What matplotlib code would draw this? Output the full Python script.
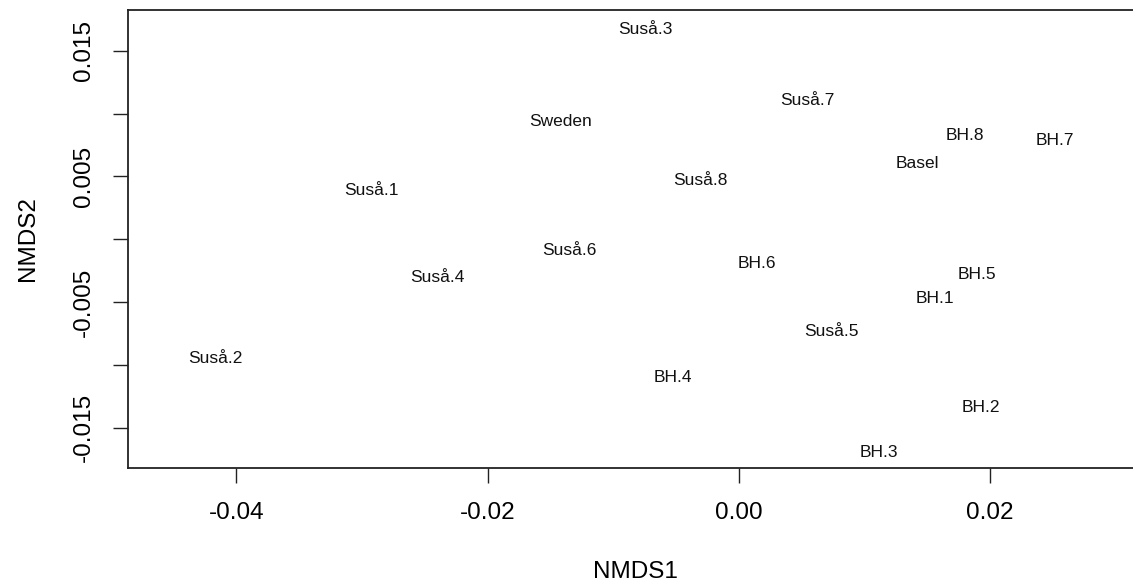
import matplotlib
matplotlib.use("Agg")
import matplotlib.pyplot as plt

plt.rcParams['font.family'] = ['Liberation Sans', 'DejaVu Sans']

site_labels = ["Suså.1", "Suså.2", "Suså.3", "Suså.4", "Suså.5", "Suså.6", "Suså.7", "Suså.8",
               "BH.1", "BH.2", "BH.3", "BH.4", "BH.5", "BH.6", "BH.7", "BH.8",
               "Basel", "Sweden"]
nmds1 = [-0.02927, -0.04169, -0.00741, -0.02397, 0.00734, -0.01349, 0.00545, -0.00303,
         0.01562, 0.01926, 0.01116, -0.00521, 0.01896, 0.00142, 0.02519, 0.01801,
         0.01419, -0.01418]
nmds2 = [0.00386, -0.00948, 0.01665, -0.00303, -0.00736, -0.00086, 0.01100, 0.00466,
         -0.00470, -0.01338, -0.01696, -0.01099, -0.00279, -0.00192, 0.00784, 0.00829,
         0.00606, 0.00935]

x_ticks = [-0.04, -0.02, 0.00, 0.02]
x_tick_labels = ["-0.04", "-0.02", "0.00", "0.02"]
y_ticks = [-0.015, -0.010, -0.005, 0.0, 0.005, 0.010, 0.015]
y_tick_labels = ["-0.015", "", "-0.005", "", "0.005", "", "0.015"]

W, H = 1133, 587
fig = plt.figure(figsize=(W / 100, H / 100), dpi=100)
left_px, right_px, top_px, bottom_px = 128, 1142, 9.5, 468.3
ax = fig.add_axes([left_px / W, (H - bottom_px) / H,
                   (right_px - left_px) / W, (bottom_px - top_px) / H])

for lab, x, y in zip(site_labels, nmds1, nmds2):
    ax.text(x, y, lab, ha='center', va='center', fontsize=12.5, color='#111111')

ax.set_xlim(-0.04862, 0.0321)
ax.set_ylim(-0.01823, 0.01828)

ax.set_xticks(x_ticks)
ax.set_xticklabels(x_tick_labels)
ax.set_yticks(y_ticks)
ax.set_yticklabels(y_tick_labels)
ax.tick_params(axis='both', length=11, width=1.0, labelsize=17.5, pad=13, color='#222222')
ax.tick_params(axis='y', labelrotation=90)
plt.setp(ax.get_yticklabels(), va='center')

for sp in ax.spines.values():
    sp.set_linewidth(1.3)
    sp.set_color('#222222')

ax.set_xlabel("NMDS1", fontsize=17.5)
ax.set_ylabel("NMDS2", fontsize=17.5)
ax.xaxis.label.set_va('center')
ax.yaxis.label.set_va('center')
ax.xaxis.set_label_coords(0.5, (bottom_px - 572) / (bottom_px - top_px))
ax.yaxis.set_label_coords((28 - left_px) / (right_px - left_px), 0.5)

fig.savefig("out.png", dpi=100)
